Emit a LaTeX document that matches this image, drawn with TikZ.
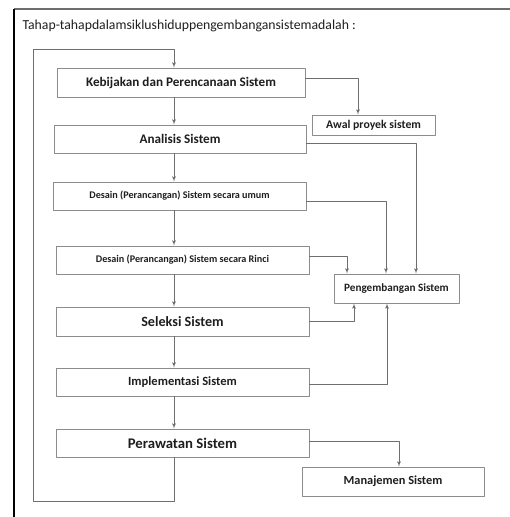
\documentclass[tikz,border=0pt]{standalone}
\usepackage{fontspec}
\setmainfont{Carlito}
\usepackage{tikz}
\usetikzlibrary{shapes,arrows,positioning,calc}
\definecolor{boxgray}{RGB}{140,140,140}
\definecolor{linegray}{RGB}{110,110,110}
\definecolor{txt}{RGB}{30,30,30}
\tikzset{
  stage/.style={draw=boxgray,line width=0.9bp,rectangle,inner sep=0pt,
    text=txt,font=\bfseries,minimum height=28bp},
  side/.style={draw=boxgray,line width=0.9bp,rectangle,inner sep=0pt,
    text=txt,font=\bfseries,minimum height=20bp},
  link/.style={draw=linegray,line width=0.8bp,->},
}
\begin{document}
\begin{tikzpicture}[>=latex',line join=bevel,x=1bp,y=-1bp]
\useasboundingbox (0,0) rectangle (510,517);
%% frame and title
\draw [linegray,line width=1.2bp] (14,9) -- (510,9);
\draw [black,line width=2bp] (14,9) -- (14,517);
\node (title) at (19,26) [anchor=west,text=txt,font=\fontsize{13.8}{16}\selectfont] {Tahap-tahapdalamsiklushiduppengembangansistemadalah :};
%% stages
\node (keb) at (181,82.5) [stage,minimum width=248bp,minimum height=29bp,font=\bfseries\fontsize{13.2}{15}\selectfont] {Kebijakan dan Perencanaan Sistem};
  \node (ana) at (180,139) [stage,minimum width=252bp,font=\bfseries\fontsize{13.2}{15}\selectfont] {Analisis Sistem};
  \node (umum) at (179.5,196) [stage,minimum width=253bp,font=\bfseries\fontsize{10.2}{12}\selectfont] {Desain (Perancangan) Sistem secara umum};
  \node (rinci) at (182.5,260) [stage,minimum width=253bp,font=\bfseries\fontsize{10.2}{12}\selectfont] {Desain (Perancangan) Sistem secara Rinci};
  \node (sel) at (182.5,321.5) [stage,minimum width=253bp,minimum height=29bp,font=\bfseries\fontsize{14.2}{16}\selectfont] {Seleksi Sistem};
  \node (impl) at (182.5,382) [stage,minimum width=253bp,font=\bfseries\fontsize{12.6}{14}\selectfont] {Implementasi Sistem};
  \node (raw) at (182.5,443) [stage,minimum width=253bp,font=\bfseries\fontsize{14.8}{17}\selectfont] {Perawatan Sistem};
%% side boxes
\node (awal) at (373.5,125) [side,minimum width=123bp,font=\bfseries\fontsize{11.8}{13}\selectfont] {Awal proyek sistem};
  \node (peng) at (396.5,288.5) [side,minimum width=125bp,minimum height=29bp,font=\bfseries\fontsize{11.2}{13}\selectfont] {Pengembangan Sistem};
  \node (man) at (393,481.5) [side,minimum width=182bp,minimum height=29bp,font=\bfseries\fontsize{12.4}{14}\selectfont] {Manajemen Sistem};
%% spine and loop
\coordinate (spine) at (174,0);
  \coordinate (lb) at (33,501);
  \coordinate (lt) at (33,49);
  \draw [link] (keb.south -| spine) -- (ana.north -| spine);
  \draw [link] (ana.south -| spine) -- (umum.north -| spine);
  \draw [link] (umum.south -| spine) -- (rinci.north -| spine);
  \draw [link] (rinci.south -| spine) -- (sel.north -| spine);
  \draw [link] (sel.south -| spine) -- (impl.north -| spine);
  \draw [link] (impl.south -| spine) -- (raw.north -| spine);
  \draw [link] (raw.south -| spine) |- (lb) -- (lt) -| (keb.north -| spine);
%% branches
\draw [link] ([yshift=4.5bp]keb.east) -| ([xshift=-15.5bp]awal.north);
  \draw [link] ([yshift=-4bp]ana.east) -| ([xshift=19.5bp]peng.north);
  \draw [link] ([yshift=-5bp]umum.east) -| ([xshift=-10.5bp]peng.north);
  \draw [link] ([yshift=4bp]rinci.east) -| ([xshift=-49.5bp]peng.north);
  \draw [link] (sel.east) -| ([xshift=-42.5bp]peng.south);
  \draw [link] ([yshift=-2bp]impl.east) -| ([xshift=-9.5bp]peng.south);
  \draw [link] ([yshift=2bp]raw.east) -| ([xshift=6bp]man.north);
%
\end{tikzpicture}
\end{document}
